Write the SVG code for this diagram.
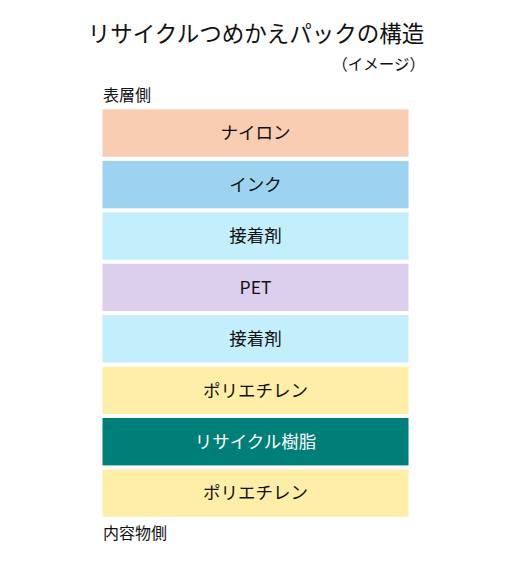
<svg xmlns="http://www.w3.org/2000/svg" width="513" height="565" viewBox="0 0 513 565">
<style>
text{font-family:"Noto Sans CJK JP","Noto Sans",sans-serif;fill:#111}
.t{font-size:22.5px}
.s{font-size:15.5px}
.side{font-size:16px}
.lab{font-size:17.5px;text-anchor:middle}
.w{fill:#fff}
</style>
<rect width="513" height="565" fill="#fff"/>
<text class="t" x="256" y="42" text-anchor="middle">リサイクルつめかえパックの構造</text>
<text class="s" x="425" y="70" text-anchor="end">（イメージ）</text>
<text class="side" x="103" y="101">表層側</text>
<g id="nylon"><rect x="102.5" y="109.3" width="306" height="47.4" fill="#F8CDB2"/><text class="lab" x="255.5" y="139.3">ナイロン</text></g>
<g id="ink"><rect x="102.5" y="160.9" width="306" height="47.4" fill="#9DD2F1"/><text class="lab" x="255.5" y="190.9">インク</text></g>
<g id="adhesive1"><rect x="102.5" y="212.3" width="306" height="47.4" fill="#C3EEFC"/><text class="lab" x="255.5" y="242.3">接着剤</text></g>
<g id="pet"><rect x="102.5" y="263.7" width="306" height="47.4" fill="#DCCFEE"/><text class="lab" x="255.5" y="293.7">PET</text></g>
<g id="adhesive2"><rect x="102.5" y="315.1" width="306" height="47.4" fill="#C3EEFC"/><text class="lab" x="255.5" y="345.1">接着剤</text></g>
<g id="pe1"><rect x="102.5" y="366.6" width="306" height="47.4" fill="#FFEEA8"/><text class="lab" x="255.5" y="396.6">ポリエチレン</text></g>
<g id="recycled"><rect x="102.5" y="418" width="306" height="47.4" fill="#007F78"/><text class="lab w" x="255.5" y="448">リサイクル樹脂</text></g>
<g id="pe2"><rect x="102.5" y="469.4" width="306" height="47.4" fill="#FFEEA8"/><text class="lab" x="255.5" y="499.4">ポリエチレン</text></g>
<g id="connectors"></g>
<text class="side" x="103" y="539">内容物側</text>
</svg>
